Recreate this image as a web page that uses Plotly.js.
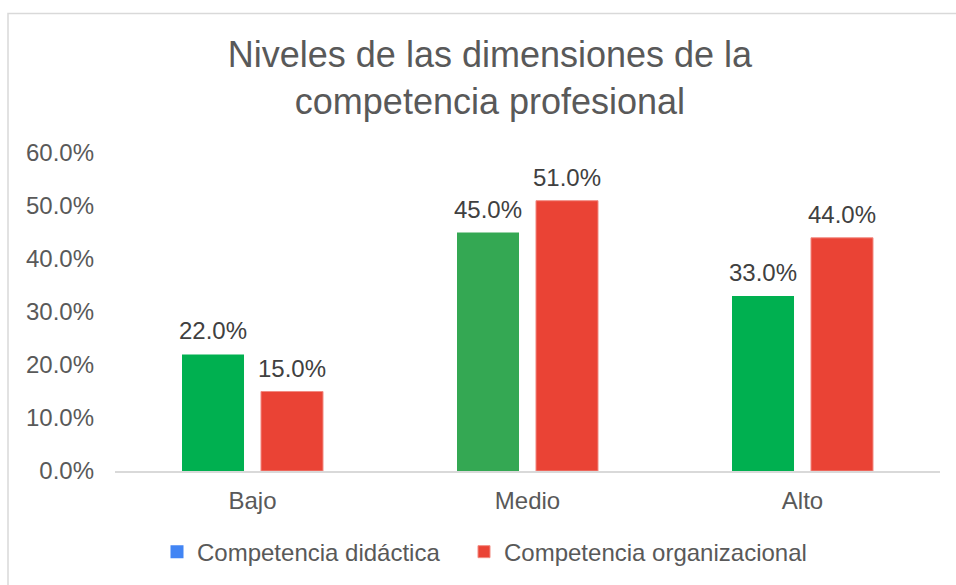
<!DOCTYPE html>
<html>
<head>
<meta charset="utf-8">
<script src="https://cdn.plot.ly/plotly-3.0.1.min.js"></script>
<style>
html,body{margin:0;padding:0;background:#fff;}
#chart{width:956px;height:585px;}
</style>
</head>
<body>
<div id="chart"></div>
<script>
const categories = ["Bajo", "Medio", "Alto"];
const didactica = [0.22, 0.45, 0.33];
const organizacional = [0.15, 0.51, 0.44];
const seriesNames = ["Competencia didáctica", "Competencia organizacional"];
const titleText = "Niveles de las dimensiones de la<br>competencia profesional";

const FONT = "Liberation Sans, Arial, sans-serif";
const greenColors = ["#00B050", "#34A853", "#00B050"];

const traces = [
  {
    type: "scatter", mode: "markers",
    x: [categories[0]], y: [null],
    name: seriesNames[0],
    marker: {symbol: "square", size: 13, color: "#4285F4"},
    showlegend: true, hoverinfo: "skip", legend: "legend"
  },
  {
    type: "bar", x: categories, y: didactica,
    name: seriesNames[0], showlegend: false,
    marker: {color: greenColors}
  },
  {
    type: "bar", x: categories, y: organizacional,
    name: seriesNames[1], legend: "legend2",
    marker: {color: "#EA4335", line: {color: "#F28B82", width: 1}}
  }
];

// data labels built from the value arrays, anchored to the data coordinates
const SLOT = 39.5;
const labelFont = {family: FONT, size: 24, color: "#404040"};
const annotations = [];
categories.forEach((c, i) => {
  annotations.push({x: c, y: didactica[i], xref: "x", yref: "y",
    text: (didactica[i] * 100).toFixed(1) + "%", showarrow: false,
    xshift: -SLOT, yshift: 8, yanchor: "bottom", font: labelFont});
  annotations.push({x: c, y: organizacional[i], xref: "x", yref: "y",
    text: (organizacional[i] * 100).toFixed(1) + "%", showarrow: false,
    xshift: SLOT, yshift: 8, yanchor: "bottom", font: labelFont});
});

const legendBase = {
  orientation: "h", xanchor: "left",
  xref: "paper", yref: "paper", y: -0.251, yanchor: "middle",
  font: {family: FONT, size: 24, color: "#595959"},
  itemclick: false, itemdoubleclick: false,
  bgcolor: "rgba(0,0,0,0)"
};

const layout = {
  width: 956, height: 585,
  margin: {l: 115, r: 16, t: 153, b: 113},
  paper_bgcolor: "#ffffff", plot_bgcolor: "#ffffff",
  font: {family: FONT, color: "#595959"},
  title: {
    text: titleText,
    font: {family: FONT, size: 36, color: "#595959"},
    xref: "container", x: 0.5125, xanchor: "center",
    yref: "container", y: 1 - 67/585, yanchor: "middle"
  },
  barmode: "group",
  bargap: 0.4255,
  bargroupgap: 0.215,
  xaxis: {
    type: "category",
    showgrid: false, zeroline: false,
    showline: true, linecolor: "#D9D9D9", linewidth: 2,
    ticks: "", ticklabelstandoff: 7,
    tickfont: {family: FONT, size: 24, color: "#595959"},
    fixedrange: true
  },
  yaxis: {
    range: [0, 0.6], dtick: 0.1, tick0: 0,
    tickformat: ".1%",
    showgrid: false, zeroline: false, showline: false,
    ticks: "", ticklabelstandoff: 20,
    tickfont: {family: FONT, size: 24, color: "#595959"},
    fixedrange: true
  },
  legend: Object.assign({}, legendBase, {x: (157 - 115) / 825}),
  legend2: Object.assign({}, legendBase, {x: (464 - 115) / 825}),
  annotations: annotations,
  shapes: [{
    type: "rect", xref: "paper", yref: "paper",
    x0: (8 - 115) / 825, x1: 1.1,
    y0: -0.5, y1: (472 - 13) / 319,
    line: {color: "#D9D9D9", width: 1.5},
    fillcolor: "rgba(0,0,0,0)", layer: "below"
  }],
  showlegend: true
};

Plotly.newPlot("chart", traces, layout, {displayModeBar: false, staticPlot: true});
</script>
</body>
</html>
